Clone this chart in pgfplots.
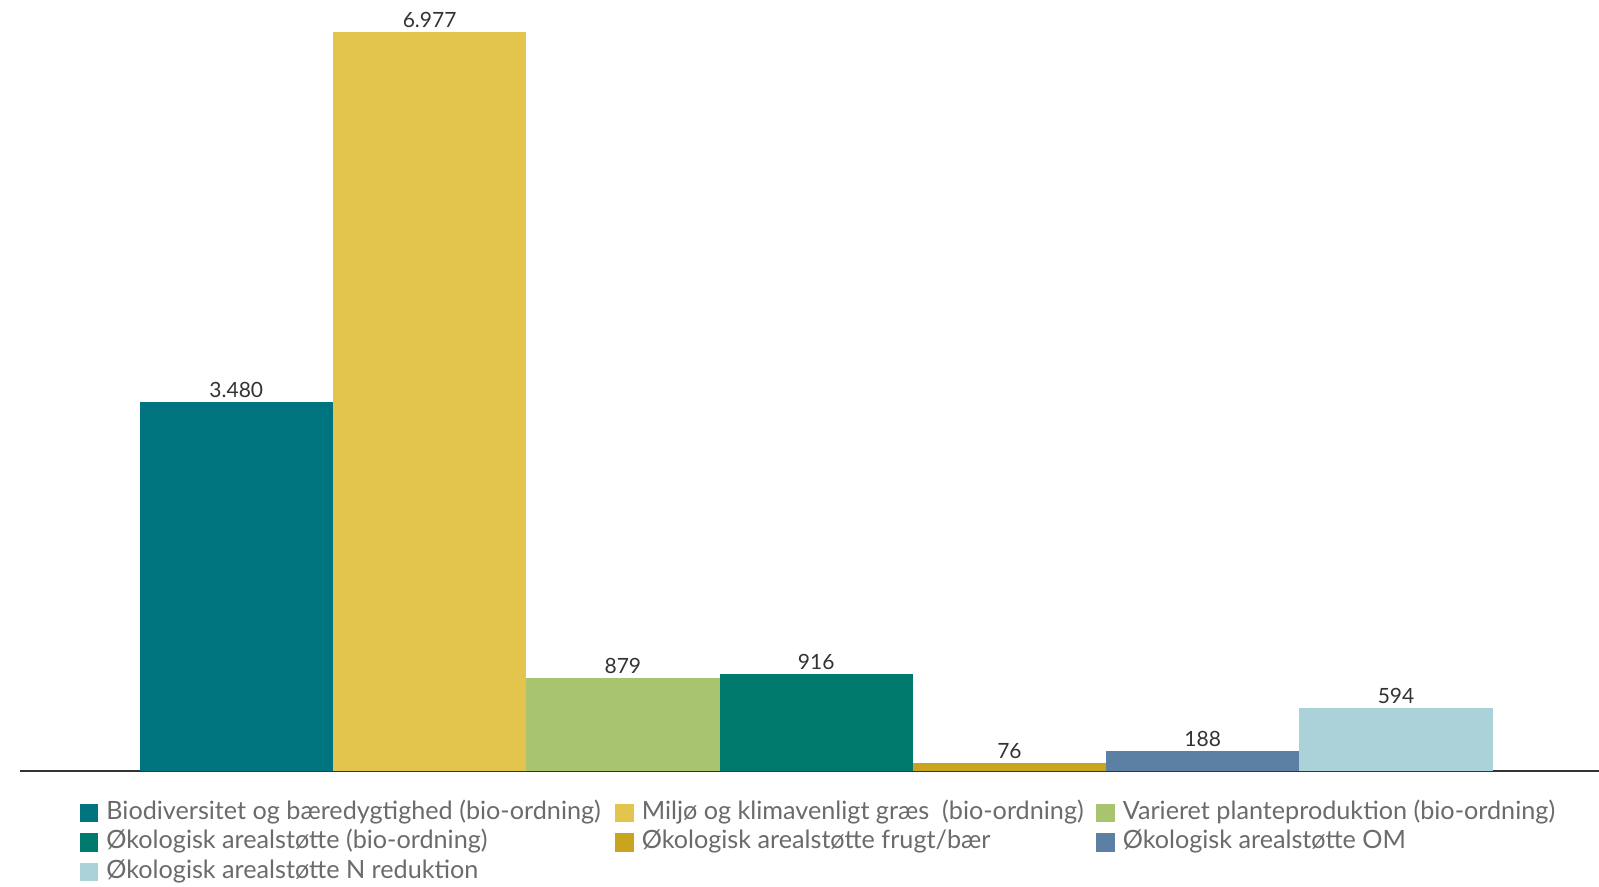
\documentclass[border=0pt]{standalone}
\usepackage{pgfplots}
\pgfplotsset{compat=1.18}
\usepackage{fontspec}
\setmainfont{Lato}
\definecolor{c1}{HTML}{00747F}
\definecolor{c2}{HTML}{E3C54E}
\definecolor{c3}{HTML}{A8C46E}
\definecolor{c4}{HTML}{007A6C}
\definecolor{c5}{HTML}{C9A41E}
\definecolor{c6}{HTML}{5B80A4}
\definecolor{c7}{HTML}{ABD2D8}
\definecolor{legtext}{HTML}{6B6B6B}
\definecolor{labtext}{HTML}{333333}
\newcommand\LA[2]{\makebox[#1][l]{\hspace*{4pt}#2}}
\begin{document}
\begin{tikzpicture}
\useasboundingbox (-10.2pt,-58pt) rectangle (789.3pt,385.5pt);
\begin{axis}[
  scale only axis,
  width=789.3pt, height=385.5pt,
  xmin=-1.117, xmax=7.05,
  ymin=0, ymax=7275,
  axis x line*=bottom,
  axis y line=none,
  x axis line style={draw=black!80, line width=0.6pt},
  xtick=\empty, ytick=\empty,
  ybar=0pt, bar width=1, bar shift=0pt,
  every axis plot/.append style={draw=none},
  nodes near coords={\pgfmathprintnumber[1000 sep={.},assume math mode=true]{\pgfplotspointmeta}},
  every node near coord/.append style={font=\fontsize{10.5}{12}\selectfont, text=labtext, anchor=south, inner sep=2pt},
  legend columns=3,
  legend cell align=left,
  legend image code/.code={\fill[#1] (0pt,-4.6pt) rectangle (9.2pt,4.6pt);},
  legend style={at={(axis description cs:0,0)}, anchor=north west, xshift=29.6pt, yshift=-15pt,
    draw=none, inner sep=0pt, column sep=0pt, row sep=3.0pt,
    font=\fontsize{12.6}{14}\selectfont, text=legtext,
    nodes={inner sep=0pt, text height=9.0pt, text depth=2.7pt}},
]
\addplot[fill=c1] coordinates {(0,3480)};
\addlegendentry{\LA{258.5pt}{Biodiversitet og bæredygtighed (bio-ordning)}}
\addplot[fill=c2] coordinates {(1,6977)};
\addlegendentry{\LA{231.3pt}{Miljø og klimavenligt græs\ \ (bio-ordning)}}
\addplot[fill=c3] coordinates {(2,879)};
\addlegendentry{\LA{240pt}{Varieret planteproduktion (bio-ordning)}}
\addplot[fill=c4] coordinates {(3,916)};
\addlegendentry{\LA{258.5pt}{Økologisk arealstøtte (bio-ordning)}}
\addplot[fill=c5] coordinates {(4,76)};
\addlegendentry{\LA{231.3pt}{Økologisk arealstøtte frugt/bær}}
\addplot[fill=c6] coordinates {(5,188)};
\addlegendentry{\LA{240pt}{Økologisk arealstøtte OM}}
\addplot[fill=c7] coordinates {(6,594)};
\addlegendentry{\LA{258.5pt}{Økologisk arealstøtte N reduktion}}
\end{axis}
\end{tikzpicture}
\end{document}
